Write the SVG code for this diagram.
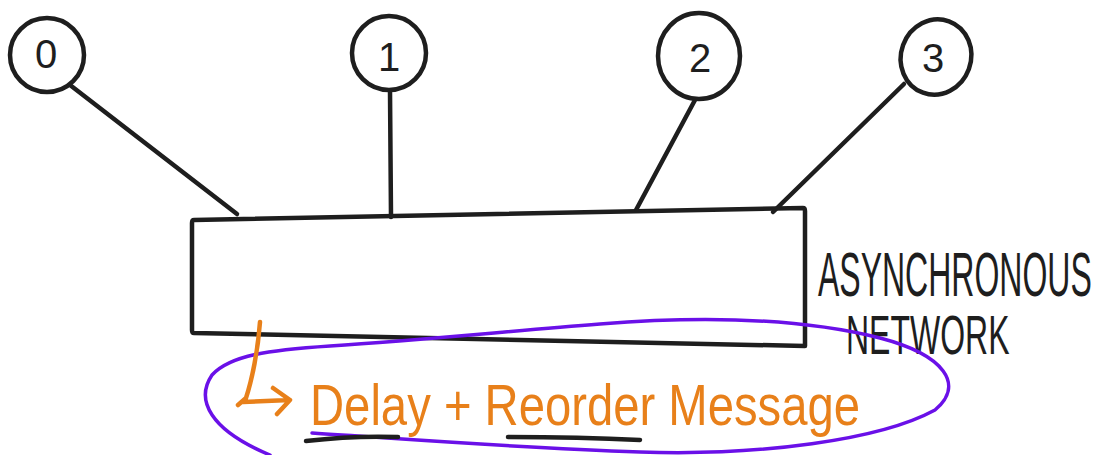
<svg xmlns="http://www.w3.org/2000/svg" width="1114" height="455" viewBox="0 0 1114 455">
  <style>
    .ink { fill: none; stroke: #1e1e1e; stroke-width: 4.5; stroke-linecap: round; stroke-linejoin: round; }
    .node { fill: #ffffff; stroke: #1e1e1e; stroke-width: 4.5; }
    .num { font-family: "Liberation Sans", "DejaVu Sans", sans-serif; font-size: 40px; fill: #1e1e1e; text-anchor: middle; }
    .label { font-family: "Liberation Sans", "DejaVu Sans", sans-serif; fill: #1e1e1e; }
    .note { font-family: "Liberation Sans", "DejaVu Sans", sans-serif; fill: #e8801a; }
    .orange { fill: none; stroke: #e8801a; stroke-width: 4.5; stroke-linecap: round; stroke-linejoin: round; }
    .loop { fill: none; stroke: #6a10e8; stroke-width: 3.5; stroke-linecap: round; }
  </style>

  <!-- links from each process to the network -->
  <g id="connectors">
    <path class="ink" d="M70 85 L237 214"/>
    <path class="ink" d="M390 91 L391 217"/>
    <path class="ink" d="M695 100 L636 210"/>
    <path class="ink" d="M904 84 L773 212"/>
  </g>

  <!-- processes -->
  <g id="node-0">
    <circle class="node" cx="47" cy="55" r="37"/>
    <text class="num" x="46" y="68" font-size="32">0</text>
  </g>
  <g id="node-1">
    <circle class="node" cx="389" cy="53" r="37"/>
    <text class="num" x="389" y="71">1</text>
  </g>
  <g id="node-2">
    <ellipse class="node" cx="699" cy="56" rx="41" ry="43"/>
    <text class="num" x="700" y="72">2</text>
  </g>
  <g id="node-3">
    <ellipse class="node" cx="936" cy="57" rx="35" ry="38" transform="rotate(20 936 57)"/>
    <text class="num" x="933" y="72" font-size="34">3</text>
  </g>

  <!-- the network box -->
  <g id="network">
    <path class="ink" d="M194 220 L803 208 Q805 208 805 211 L805 346 L194 333 Q192 333 192 330 L192 223 Q192 220 194 220 Z"/>
    <!-- tall, narrow caption lettering: stretched vertically -->
    <text class="label" font-size="32" transform="translate(818 296) scale(1 1.95)">ASYNCHRONOUS</text>
    <text class="label" font-size="32" transform="translate(846 354) scale(1 1.75)">NETWORK</text>
  </g>

  <!-- annotation below the network -->
  <g id="annotation">
    <path class="loop" d="M312 433 C420 440 520 448 640 452 C760 456 880 440 935 410 C965 385 945 355 880 338 C800 318 700 316 600 324 C500 332 420 340 330 346 C270 350 230 355 212 375 C195 400 210 430 270 455"/>
    <path class="orange" d="M260 322 C258 350 252 380 246 398 L238 405 M243 402 L290 400 M273 388 L290 400 L277 414"/>
    <text class="note" x="310" y="425" font-size="58" textLength="550" lengthAdjust="spacingAndGlyphs">Delay + Reorder Message</text>
    <path class="ink" d="M306 441 C340 437 370 436 398 437"/>
    <path class="ink" d="M508 437 C560 437 600 438 640 440"/>
  </g>
</svg>
